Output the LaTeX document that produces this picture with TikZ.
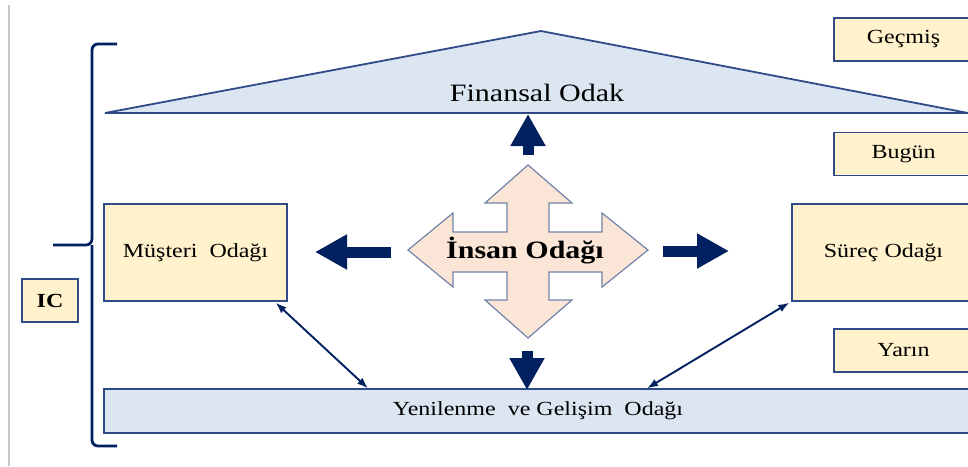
\documentclass[tikz,border=0pt]{standalone}
\usepackage{fontspec}
\setmainfont{Liberation Serif}[FakeStretch=1.2]
\usepackage{tikz}
\usetikzlibrary{arrows.meta, positioning, calc}
\definecolor{navy}{HTML}{002060}
\definecolor{edgeblue}{HTML}{2F4B87}
\definecolor{boxblue}{HTML}{DCE6F2}
\definecolor{boxcream}{HTML}{FFF2CC}
\definecolor{peach}{HTML}{FBE5D6}
\definecolor{peachedge}{HTML}{7084A8}

\begin{document}
\begin{tikzpicture}[
    x=1pt, y=-1pt,
    every node/.style={font=\fontsize{20}{24}\selectfont, text=black},
    focusbox/.style={draw=edgeblue, line width=1.3pt, fill=boxcream, minimum width=183pt, minimum height=97pt, inner sep=0pt},
    timebox/.style={draw=edgeblue, line width=1.3pt, fill=boxcream, minimum width=139pt, minimum height=43pt, inner sep=0pt},
    blockarrow/.style={draw=navy, line width=11pt, -{Triangle[length=32pt, width=33pt]}},
    linkarrow/.style={draw=navy, line width=1.9pt, {Latex[length=11pt, width=8pt]}-{Latex[length=11pt, width=8pt]}},
  ]
    \useasboundingbox (0,0) rectangle (968,466);
    \clip (0,0) rectangle (968,466);
    % frame line and brace
    \draw[gray!45, line width=1.5pt] (9,5) -- (9,466);
    \draw[navy, line width=2.8pt, rounded corners=6pt] (117,44) -| (92,245) -- (53,245);
    \draw[navy, line width=2.8pt, rounded corners=6pt] (117,446) -| (92,245);
    % roof
    \draw[fill=boxblue, draw=edgeblue, line width=1.8pt, line join=miter] (105,113) -- (541,31) -- (968,113) -- cycle;
    \node (fin) at (537,93) {\fontsize{25}{30}\selectfont Finansal Odak};
    % time labels
    \node[timebox] (gec) at (903.5,39.5) {Geçmiş};
    \node[timebox] (bug) at (903.5,154) {Bugün};
    \node[timebox] (yar) at (903.5,350.5) {Yarın};
    \node[draw=edgeblue, line width=1.3pt, fill=boxcream, minimum width=56pt, minimum height=43pt, inner sep=0pt] (ic) at (50,300.5) {\bfseries IC};
    % focus boxes
    \node[focusbox] (mus) at (195.5,252.5) {Müşteri\ \ Odağı};
    \node[focusbox] (sur) at (883.5,252.5) {Süreç Odağı};
    \node[draw=edgeblue, line width=1.3pt, fill=boxblue, minimum width=868pt, minimum height=44pt, inner sep=0pt] (yen) at (538,411) {Yenilenme\ \ ve Gelişim\ \ Odağı};
    % four way arrow
    \draw[fill=peach, draw=peachedge, line width=1.2pt, line join=miter]
      (528,165) -- (572,203) -- (549,203) -- (549,232) -- (602,232) -- (602,213) -- (648,250)
      -- (602,287) -- (602,272) -- (549,272) -- (549,300) -- (572,300) -- (528,338)
      -- (485,300) -- (507,300) -- (507,272) -- (453,272) -- (453,287) -- (408,250)
      -- (453,213) -- (453,232) -- (507,232) -- (507,203) -- (485,203) -- cycle;
    \node (ins) at (525,251) {\fontsize{25}{30}\selectfont\bfseries İnsan Odağı};
    % block arrows
    \coordinate (upS) at (528,155);
    \coordinate (upT) at (528,114);
    \coordinate (dnS) at (527,351);
    \coordinate (dnT) at (527,390);
    \coordinate (ltS) at (391,252);
    \coordinate (ltT) at (315,252);
    \coordinate (rtS) at (663,251);
    \coordinate (rtT) at (729,251);
    \draw[blockarrow] (upS) -- (upT);
    \draw[blockarrow] (dnS) -- (dnT);
    \draw[blockarrow] (ltS) -- (ltT);
    \draw[blockarrow] (rtS) -- (rtT);
    % links to the bottom bar
    \draw[linkarrow] ([xshift=-12pt, yshift=-1pt]mus.south east) -- ([xshift=-170pt]yen.north);
    \draw[linkarrow] ([xshift=-2pt, yshift=-1pt]sur.south west) -- ([xshift=109pt]yen.north);
  \end{tikzpicture}
\end{document}
